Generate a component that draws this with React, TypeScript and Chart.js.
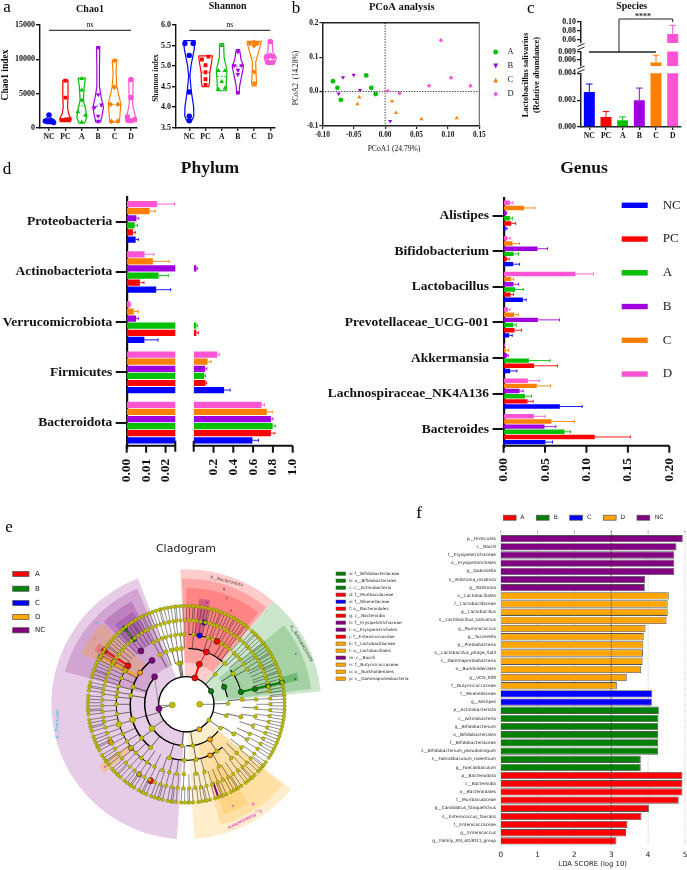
import React, { useEffect, useRef } from "react";
import { Chart, registerables } from "chart.js";
Chart.register(...registerables);

const W = 687, H = 870;
const SERIF = '"Liberation Serif"';
const SANS = '"DejaVu Sans"';
const BLUE = "#0000FF", RED = "#FF0000", GREEN = "#00C000", PURPLE = "#A000E0", ORANGE = "#FF8000", PINK = "#FF55D5";

// ---------- panel a ----------
const groups = ["NC", "PC", "A", "B", "C", "D"];
const chaoTicks = [0, 5000, 10000, 15000];
const chaoNC = [[0, 1850], [-0.22, 1000], [0, 1000], [0.2, 950], [0.28, 750], [0.05, 1000]];
const chaoPC = [[0, 6870], [0, 4380], [-0.22, 1100], [0.04, 1200], [0.24, 1250], [-0.06, 1100]];
const chaoA = [[0, 7150], [0, 5500], [0, 4000], [-0.24, 2300], [0.22, 1800], [0, 800]];
const chaoB = [[0, 11700], [0, 4850], [-0.22, 2950], [0.2, 3350], [0, 1700], [0, 950]];
const chaoC = [[0, 9800], [0, 5900], [-0.24, 3400], [0.2, 3400], [-0.2, 900], [0.2, 950]];
const chaoD = [[0, 7050], [0, 4400], [-0.22, 1600], [0, 1000], [0.24, 1200], [-0.16, 1050]];
const chaoShapeNC = [[1900, 0.05], [1400, 0.12], [1100, 0.32], [800, 0.35], [600, 0.15]];
const chaoShapePC = [[6950, 0.16], [4500, 0.16], [3000, 0.13], [2000, 0.2], [1300, 0.35], [900, 0.3]];
const chaoShapeA = [[7250, 0.22], [6000, 0.15], [4000, 0.1], [2500, 0.25], [1500, 0.3], [700, 0.18]];
const chaoShapeB = [[11800, 0.1], [9000, 0.08], [6000, 0.08], [4500, 0.18], [3000, 0.32], [1800, 0.24], [800, 0.14]];
const chaoShapeC = [[9900, 0.14], [8000, 0.09], [6000, 0.14], [3500, 0.38], [1800, 0.33], [800, 0.28]];
const chaoShapeD = [[7100, 0.13], [5000, 0.12], [3500, 0.1], [2000, 0.22], [1300, 0.33], [900, 0.3]];
const chaoMedians = [1000, 1250, 3200, 3150, 3400, 1300];

const shanTicks = [3.5, 4, 4.5, 5, 5.5, 6];
const shanNC = [[-0.27, 5.55], [0.24, 5.55], [0, 5.26], [0, 4.37], [0, 3.78], [0, 3.67]];
const shanPC = [[-0.22, 5.16], [0.18, 5.23], [0, 5.02], [0, 4.85], [0, 4.68], [0, 4.54]];
const shanA = [[0, 5.5], [-0.2, 4.89], [0.2, 4.89], [0, 4.62], [-0.2, 4.43], [0.2, 4.46]];
const shanB = [[0, 5.35], [-0.22, 5.01], [0.22, 5.01], [0, 4.9], [0, 4.8], [0, 4.36]];
const shanC = [[0, 5.58], [-0.26, 5.55], [0.2, 5.55], [0, 5.5], [0, 4.86], [0, 4.58]];
const shanD = [[0, 5.6], [0, 5.25], [-0.22, 5.23], [0.22, 5.23], [-0.16, 5.1], [0.14, 5.09]];
const shanShapeNC = [[5.62, 0.36], [5.4, 0.3], [5.0, 0.1], [4.75, 0.04], [4.4, 0.12], [4.0, 0.27], [3.78, 0.28], [3.65, 0.12]];
const shanShapePC = [[5.25, 0.42], [5.1, 0.38], [4.85, 0.27], [4.6, 0.25], [4.5, 0.2]];
const shanShapeA = [[5.55, 0.12], [5.2, 0.15], [4.9, 0.33], [4.6, 0.28], [4.4, 0.28]];
const shanShapeB = [[5.4, 0.1], [5.15, 0.2], [5.0, 0.35], [4.8, 0.25], [4.5, 0.1], [4.32, 0.08]];
const shanShapeC = [[5.6, 0.45], [5.45, 0.35], [5.1, 0.1], [4.8, 0.12], [4.6, 0.15], [4.52, 0.12]];
const shanShapeD = [[5.62, 0.12], [5.35, 0.15], [5.2, 0.38], [5.1, 0.3], [5.04, 0.2]];
const shanMedians = [4.8, 4.85, 4.75, 5.0, 5.2, 5.2];

// ---------- panel b ----------
const pcoaA = [[-0.083, 0.03], [-0.076, 0.011], [-0.0705, -0.024], [-0.03, 0.047], [-0.022, 0.011], [-0.015, -0.007]];
const pcoaB = [[-0.074, -0.006], [-0.067, 0.041], [-0.05, 0.048], [-0.04, 0.004], [0.008, -0.086]];
const pcoaC = [[-0.044, -0.036], [-0.041, -0.017], [0.011, -0.028], [0.0175, -0.062], [0.058, -0.08], [0.114, -0.077]];
const pcoaD = [[0.004, 0.002], [0.023, -0.005], [0.07, 0.017], [0.089, 0.149], [0.105, 0.04], [0.136, 0.017]];

// ---------- panel c ----------
const speciesMeans = [0.0026, 0.00075, 0.0005, 0.002, 0.00506, 0.0727];
const speciesErrTop = [0.0032, 0.00115, 0.00075, 0.0029, 0.0078, 0.092];
const speciesLowTicks = [0, 0.002, 0.004];
const speciesMidTicks = [0.006, 0.009];
const speciesTopTicks = [0.06, 0.08, 0.1];

// ---------- panel d ----------
const phylumNames = ["Proteobacteria", "Actinobacteriota", "Verrucomicrobiota", "Firmicutes", "Bacteroidota"];
const phylumNC = [0.0046, 0.0152, 0.0091, 0.307, 0.593];
const phylumPC = [0.0032, 0.0068, 0.027, 0.119, 0.78];
const phylumA = [0.0041, 0.0164, 0.026, 0.106, 0.797];
const phylumB = [0.005, 0.028, 0.0048, 0.116, 0.78];
const phylumC = [0.0118, 0.0135, 0.0036, 0.14, 0.739];
const phylumD = [0.0157, 0.0092, 0.0019, 0.2385, 0.685];
const phylumErrNC = [0.006, 0.0226, 0.0161, 0.368, 0.654];
const phylumErrPC = [0.0044, 0.0089, 0.048, 0.13, 0.82];
const phylumErrA = [0.0056, 0.0214, 0.04, 0.119, 0.825];
const phylumErrB = [0.0062, 0.04, 0.006, 0.133, 0.8];
const phylumErrC = [0.0147, 0.0219, 0.006, 0.177, 0.794];
const phylumErrD = [0.0246, 0.014, 0.0022, 0.262, 0.715];

const genusNames = ["Alistipes", "Bifidobacterium", "Lactobacillus", "Prevotellaceae_UCG-001", "Akkermansia", "Lachnospiraceae_NK4A136", "Bacteroides"];
const genusNC = [0.0024, 0.0116, 0.0233, 0.0068, 0.008, 0.0679, 0.0506];
const genusPC = [0.0092, 0.004, 0.0084, 0.0132, 0.0369, 0.0289, 0.11];
const genusA = [0.0076, 0.012, 0.014, 0.0116, 0.0305, 0.0257, 0.0735];
const genusB = [0.0032, 0.041, 0.012, 0.0414, 0.004, 0.0193, 0.0494];
const genusC = [0.0249, 0.0108, 0.0088, 0.0128, 0.0024, 0.04, 0.0578];
const genusD = [0.0076, 0.0048, 0.0867, 0.0052, 0.0008, 0.0293, 0.0365];
const genusErrNC = [0.004, 0.0193, 0.0273, 0.0104, 0.016, 0.0948, 0.059];
const genusErrPC = [0.0145, 0.0068, 0.012, 0.0217, 0.065, 0.0357, 0.153];
const genusErrA = [0.0108, 0.018, 0.0237, 0.0157, 0.0562, 0.0337, 0.0807];
const genusErrB = [0.0036, 0.053, 0.018, 0.0675, 0.0056, 0.0237, 0.063];
const genusErrC = [0.0378, 0.0193, 0.012, 0.018, 0.006, 0.0566, 0.0855];
const genusErrD = [0.0112, 0.008, 0.1084, 0.0076, 0.0012, 0.0434, 0.05];

// ---------- panel e ----------
const cladeLevel6 = [8,10,12,13,15,17,19,20,22,24,25,27,29,31,32,34,36,38,39,41,43,45,46,48,51,53,54,56,58,60,61,63,65,67,69,70,72,74,76,77,79,81,83,85,86,88,90,92,94,96,97,99,101,103,105,106,108,110,112,114,116,117,119,121,123,124,126,128,130,132,133,135,137,139,141,143,144,146,148,150,151,153,155,157,159,160,162,164,167,169,170,172,175,177,179,181,183,184,186,189,191,193,194,196,199,201,203,205,206,208,211,213,215,216,218,221,223,225,226,228,231,233,235,236,238,241,243,244,246,249,251,253,254,256,259,261,262,264,267,269,271,272,274,277,279,281,282,284,287,289,291,292,294,297,299,301,302,304,307,309,311,312,314,317,319,321,322,324,327,329,331,333,335,337,339,341,343,345,347,349,351,353,355,357,359,1,3,5,6];
const cladeLevel5 = [9,12,15,18,20,23,26,28,31,34,36,39,42,44,47,50,53,55,58,61,63,66,69,71,74,77,80,83,85,88,91,94,97,99,102,105,108,111,114,117,119,122,125,128,131,134,137,140,143,146,149,152,155,158,161,164,167,170,173,177,181,185,189,192,196,200,204,208,212,216,220,224,228,232,236,240,244,248,252,256,260,264,268,272,276,280,284,288,292,296,300,304,308,312,316,320,324,328,332,336,340,344,348,352,356,0,4];
const cladeLevel4 = [92,95,99,103,107,110,114,118,152,158,165,170,174,180,188,205,212,218,224,230,236,243,250,256,262,268,278,285,298,310,316,322,330,335,342,350,357,4,30,35,40,44,47,52,56,60,68,72,84];
const cladeLevel3 = [95,100,105,111,118,162,171,217,230.5,252.6,268,280,303,328,347,5,33,47];
const cladeLevel2 = [97,99,101,264,279,325,344,1,46];
const cladeLevel1 = [325];
const cladeBigNodes = [[42, 183], [211, 196.5], [168, 196], [126, 215], [40, 0]];
const cladeGreen = [[84, 28], [125, 24.5], [168, 12.7], [211, 12.6], [252, 12.8], [294, 13], [251, 129], [293, 129]];
const cladeRed = [[83, 72], [126, 72], [168, 69], [210, 64], [253, 245], [294, 146.8], [210, 146.5]];
const cladeBlue = [[210, 79], [251, 77.6]];
const cladeOrange = [[84.5, -62.5], [127, -56], [169, -65], [168, 145.6], [210, 150], [252, 150], [294.5, 151], [253, 236], [212, 218.5], [253.6, 206.5]];
const cladePurple = [[83, 189], [126, 139], [167, 128], [210, 130.4]];
const cladeBlackArcs = [[83, 0, 360, 1.4], [125, 139, 265, 1.5], [125, 270, 320, 1.2], [125, 10, 30, 1.2], [168, 128, 232, 1.5], [168, 50, 88, 1.4], [168, 252, 310, 1.2], [168, 12, 38, 1.1], [210, 58, 88, 0.9], [210, 150, 240, 0.9]];
const cladeWedges = [
  ["128,0,128", 111, 266, 83, 405, 0.2], ["128,0,128", 113, 165, 125, 377, 0.2], ["128,0,128", 118, 135, 210, 350, 0.22], ["128,0,128", 120, 132, 250, 320, 0.22],
  ["255,165,0", 136, 154, 170, 350, 0.25], ["255,0,0", 145, 150, 210, 320, 0.2], ["255,165,0", 215, 220, 210, 320, 0.3],
  ["255,0,0", 50, 92.5, 83, 405, 0.2], ["255,0,0", 50.5, 92, 125, 377, 0.2], ["255,0,0", 52, 90, 170, 350, 0.2], ["128,0,128", 77, 83, 210, 320, 0.3],
  ["0,128,0", 5.5, 50, 83, 405, 0.2], ["0,128,0", 7, 39, 125, 377, 0.2], ["0,128,0", 12, 16, 290, 345, 0.3],
  ["255,165,0", -86.6, -39, 83, 405, 0.2], ["255,165,0", -74, -40, 125, 377, 0.2], ["255,165,0", -71, -58, 210, 350, 0.2],
];
const cladeLegendLeft = [["A", "#FF0000"], ["B", "#008000"], ["C", "#0000FF"], ["D", "#FFA500"], ["NC", "#800080"]];
const cladeLegendRight = [
  ["a: f__Bifidobacteriaceae", "#008000"], ["b: o__Bifidobacteriales", "#008000"], ["c: c__Actinobacteria", "#008000"], ["d: f__Muribaculaceae", "#FF0000"],
  ["e: f__Rikenellaceae", "#0000FF"], ["f: o__Bacteroidales", "#FF0000"], ["g: c__Bacteroidia", "#FF0000"], ["h: f__Erysipelotrichaceae", "#800080"],
  ["i: o__Erysipelotrichales", "#800080"], ["j: f__Enterococcaceae", "#FF0000"], ["k: f__Lactobacillaceae", "#FFA500"], ["l: o__Lactobacillales", "#FFA500"],
  ["m: c__Bacilli", "#800080"], ["n: f__Butyricicoccaceae", "#FFA500"], ["o: o__Burkholderiales", "#FFA500"], ["p: c__Gammaproteobacteria", "#FFA500"],
];

// ---------- panel f ----------
const ldaNamesNC = ["p__Firmicutes", "c__Bacilli", "f__Erysipelotrichaceae", "o__Erysipelotrichales", "g__Dubosiella", "s__Ralstonia_insidiosa", "g__Ralstonia"];
const ldaNC = [4.94, 4.77, 4.71, 4.71, 4.71, 3.92, 3.91];
const ldaNamesD = ["o__Lactobacillales", "f__Lactobacillaceae", "g__Lactobacillus", "s__Lactobacillus_salivarius", "g__Ruminococcus", "g__Tuzzerella", "p__Proteobacteria", "s__Lactobacillus_phage_Sal3", "c__Gammaproteobacteria", "o__Burkholderiales", "g__UCG_009", "f__Butyricicoccaceae"];
const ldaD = [4.56, 4.53, 4.53, 4.5, 3.93, 3.88, 3.87, 3.86, 3.85, 3.81, 3.42, 3.15];
const ldaNamesC = ["f__Rikenellaceae", "g__Alistipes"];
const ldaC = [4.11, 4.1];
const ldaNamesB = ["p__Actinobacteriota", "c__Actinobacteria", "g__Bifidobacterium", "o__Bifidobacteriales", "f__Bifidobacteriaceae", "s__Bifidobacterium_pseudolongum", "s__Faecalibaculum_rodentium", "g__Faecalibaculum"];
const ldaB = [4.29, 4.28, 4.27, 4.27, 4.27, 4.27, 3.8, 3.8];
const ldaNamesA = ["p__Bacteroidota", "c__Bacteroidia", "o__Bacteroidales", "f__Muribaculaceae", "g__Candidatus_Stoquefichus", "s__Enterococcus_faecalis", "f__Enterococcaceae", "g__Enterococcus", "g__Family_XIII_AD3011_group"];
const ldaA = [4.93, 4.93, 4.93, 4.83, 4.02, 3.82, 3.44, 3.4, 3.14];
const ldaTicks = [0, 1, 2, 3, 4, 5];

// ---------- helpers ----------
// The y axis box is as wide as the space left of the plot, the x axis box as tall as the space under it,
// so each plot area lands on exact page pixels in a full-page canvas.
const pad = (l, t, r, b, showX = true, showY = true) => ({ left: showY ? 0 : l, top: t, right: W - r, bottom: showX ? 0 : H - b });
const fitTo = (l, b) => (s) => {
  if (s.isHorizontal()) s.height = H - b; else s.width = l;
  s.paddingLeft = 0; s.paddingRight = 0; s.paddingTop = 0; s.paddingBottom = 0;
};
const setTicks = (arr) => (s) => { s.ticks = arr.map((v) => ({ value: v })); };

function T(ctx, s, x, y, font, opt: any = {}) {
  ctx.save();
  ctx.font = font;
  ctx.fillStyle = opt.color || "#000";
  ctx.textAlign = opt.align || "center";
  ctx.textBaseline = "middle";
  ctx.translate(x, y);
  if (opt.rot) ctx.rotate((opt.rot * Math.PI) / 180);
  ctx.fillText(s, 0, 0);
  ctx.restore();
}
function L(ctx, pts, color = "#000", w = 1, dash: any = null) {
  ctx.save();
  ctx.strokeStyle = color;
  ctx.lineWidth = w;
  if (dash) ctx.setLineDash(dash);
  ctx.beginPath();
  pts.forEach((p, i) => (i ? ctx.lineTo(p[0], p[1]) : ctx.moveTo(p[0], p[1])));
  ctx.stroke();
  ctx.restore();
}
const tickFont = (size, weight = "bold") => ({ family: SERIF, size, weight, lineHeight: 1 });
const base = (layoutBox) => ({
  animation: false, responsive: false, maintainAspectRatio: false,
  layout: { padding: layoutBox },
  plugins: { legend: { display: false }, tooltip: { enabled: false }, title: { display: false } },
});

// ---- violin panels
function violinConfig(o) {
  const stylesP = ["circle", "rect", "triangle", "triangle", "rectRot", "circle"];
  const rots = [0, 0, 0, 180, 0, 0];
  const colors = [BLUE, RED, GREEN, PURPLE, ORANGE, PINK];
  const fit = fitTo(o.l, o.b);
  return {
    type: "scatter",
    data: {
      datasets: o.points.map((pts, g) => ({
        data: pts.map((p) => ({ x: g + p[0], y: p[1] })),
        pointStyle: stylesP[g], rotation: rots[g], pointRadius: 2.7,
        backgroundColor: colors[g], borderColor: colors[g], borderWidth: 0,
      })),
    },
    options: {
      ...base(pad(o.l, o.t, o.r, o.b)),
      scales: {
        x: {
          type: "linear", min: o.xMin, max: o.xMax, afterFit: fit, afterBuildTicks: setTicks([0, 1, 2, 3, 4, 5]),
          border: { color: "#111", width: 1.4 }, grid: { drawOnChartArea: false, color: "#111", lineWidth: 1.4, tickLength: 3 },
          ticks: { callback: (v) => groups[v], font: tickFont(7.7), color: "#111", padding: 2, maxRotation: 0, minRotation: 0, autoSkip: false },
        },
        y: {
          type: "linear", min: o.yMin, max: o.yMax, afterFit: fit, afterBuildTicks: setTicks(o.yTicks),
          border: { color: "#111", width: 1.4 }, grid: { drawOnChartArea: false, color: "#111", lineWidth: 1.4, tickLength: 4 },
          ticks: { callback: o.fmt, font: tickFont(8), color: "#111", padding: 1, autoSkip: false },
        },
      },
    },
    plugins: [{
      id: "violin",
      beforeDatasetsDraw(c) {
        const { ctx, scales: { x, y } } = c;
        o.shapes.forEach((shape, g) => {
          const pts = shape.map((s) => [x.getPixelForValue(g - s[1]), y.getPixelForValue(s[0])]);
          const back = shape.slice().reverse().map((s) => [x.getPixelForValue(g + s[1]), y.getPixelForValue(s[0])]);
          const all = pts.concat(back); all.push(all[0]);
          L(ctx, all, colors[g], 1.2);
          const mx = shape.find((s) => s[0] <= o.medians[g]);
          const hw = mx ? mx[1] : 0.2;
          L(ctx, [[x.getPixelForValue(g - hw), y.getPixelForValue(o.medians[g])], [x.getPixelForValue(g + hw), y.getPixelForValue(o.medians[g])]], colors[g], 0.8, [2, 1.5]);
        });
      },
      afterDatasetsDraw(c) {
        const { ctx, scales: { x } } = c;
        const ly = 30.3;
        L(ctx, [[x.getPixelForValue(0), ly], [x.getPixelForValue(5), ly]], "#111", 1);
        T(ctx, "ns", (x.getPixelForValue(0) + x.getPixelForValue(5)) / 2, 25.5, `7.5px ${SERIF}`);
        T(ctx, o.title, o.titleX, o.titleY, `bold 10px ${SERIF}`, { color: "#111" });
        T(ctx, o.yLabel, o.yLabelX, o.yLabelY, `bold ${o.yLabelSize}px ${SERIF}`, { rot: -90, color: "#111" });
        if (o.letter) T(ctx, o.letter, 7, 8, `17px ${SERIF}`);
      },
    }],
  };
}

// ---- scatter panel b
function pcoaConfig() {
  const legend = [["A", GREEN, "circle", 0], ["B", PURPLE, "triangle", 180], ["C", ORANGE, "triangle", 0], ["D", PINK, "rectRot", 0]];
  const sets = [pcoaA, pcoaB, pcoaC, pcoaD];
  const fit = fitTo(322.3, 126);
  return {
    type: "scatter",
    data: {
      datasets: sets.map((pts, i) => ({
        data: pts.map((p) => ({ x: p[0], y: p[1] })),
        pointStyle: legend[i][2], rotation: legend[i][3], pointRadius: i === 3 ? 2.2 : 2.4,
        backgroundColor: legend[i][1], borderWidth: 0,
      })),
    },
    options: {
      ...base(pad(322.3, 22.7, 479.3, 126)),
      scales: {
        x: {
          type: "linear", min: -0.1, max: 0.15, afterFit: fit, afterBuildTicks: setTicks([-0.1, -0.05, 0, 0.05, 0.1, 0.15]),
          border: { color: "#222", width: 1.5 }, grid: { drawOnChartArea: false, color: "#222", lineWidth: 1.2, tickLength: 3 },
          ticks: { callback: (v) => Number(v).toFixed(2), font: tickFont(7.3), color: "#111", padding: 2, maxRotation: 0, minRotation: 0, autoSkip: false },
        },
        y: {
          type: "linear", min: -0.1, max: 0.2, afterFit: fit, afterBuildTicks: setTicks([-0.1, 0, 0.1, 0.2]),
          border: { color: "#222", width: 1.5 }, grid: { drawOnChartArea: false, color: "#222", lineWidth: 1.2, tickLength: 3 },
          ticks: { callback: (v) => Number(v).toFixed(1), font: tickFont(7.3), color: "#111", padding: 1, autoSkip: false },
        },
      },
    },
    plugins: [{
      id: "pcoa",
      beforeDatasetsDraw(c) {
        const { ctx, scales: { x, y }, chartArea: a } = c;
        L(ctx, [[a.left, a.top], [a.right, a.top]], "#222", 1.4);
        L(ctx, [[a.right, a.top], [a.right, a.bottom]], "#555", 1);
        L(ctx, [[x.getPixelForValue(0), a.top], [x.getPixelForValue(0), a.bottom]], "#111", 0.9, [1.2, 1.5]);
        L(ctx, [[a.left, y.getPixelForValue(0)], [a.right, y.getPixelForValue(0)]], "#111", 0.9, [1.2, 1.5]);
      },
      afterDatasetsDraw(c) {
        const { ctx } = c;
        T(ctx, "PCoA analysis", 401.7, 7, `bold 10.6px ${SERIF}`, { color: "#111" });
        T(ctx, "PCoA2  (14.28%)", 296, 78, `7.6px ${SERIF}`, { rot: -90, color: "#111" });
        T(ctx, "PCoA1 (24.79%)", 394, 149, `7.6px ${SERIF}`, { color: "#111" });
        T(ctx, "b", 296, 9, `17px ${SERIF}`);
        legend.forEach((l, i) => {
          const ly = 52 + i * 14;
          ctx.save();
          ctx.fillStyle = l[1];
          ctx.translate(495.7, ly);
          const r = 2.4;
          ctx.beginPath();
          if (l[2] === "circle") ctx.arc(0, 0, r, 0, Math.PI * 2);
          else if (l[2] === "rectRot") { ctx.moveTo(0, -r); ctx.lineTo(r, 0); ctx.lineTo(0, r); ctx.lineTo(-r, 0); ctx.closePath(); }
          else { const d = l[3] ? -1 : 1; ctx.moveTo(0, -r * d); ctx.lineTo(r, r * d); ctx.lineTo(-r, r * d); ctx.closePath(); }
          ctx.fill();
          ctx.restore();
          T(ctx, l[0], 507.5, ly, `8.5px ${SERIF}`, { align: "left", color: "#222" });
        });
      },
    }],
  };
}

// ---- panel c pieces
function speciesPart(l, t, r, b, min, max, ticks, digits, showX, deco) {
  const colors = [BLUE, RED, GREEN, PURPLE, ORANGE, PINK];
  const fit = fitTo(l, b);
  return {
    type: "bar",
    data: { labels: groups, datasets: [{ data: speciesMeans, backgroundColor: colors, barPercentage: 0.66, categoryPercentage: 1 }] },
    options: {
      ...base(pad(l, t, r, b, showX, true)),
      scales: {
        x: {
          display: showX, afterFit: showX ? fit : undefined,
          border: { color: "#222", width: 1.5 }, grid: { offset: false, drawOnChartArea: false, color: "#222", lineWidth: 1.3, tickLength: 3 },
          ticks: { font: tickFont(7.7), color: "#111", padding: 2, maxRotation: 0, minRotation: 0, autoSkip: false },
        },
        y: {
          type: "linear", min, max, afterFit: fit, afterBuildTicks: setTicks(ticks),
          border: { color: "#222", width: 1.5 }, grid: { drawOnChartArea: false, color: "#222", lineWidth: 1.3, tickLength: 4 },
          ticks: { callback: (v) => Number(v).toFixed(digits), font: tickFont(7.9), color: "#111", padding: 1, autoSkip: false },
        },
      },
    },
    plugins: [{
      id: "speciesErr",
      afterDatasetsDraw(c) {
        const { ctx, scales: { x, y }, chartArea: a } = c;
        ctx.save();
        ctx.beginPath();
        ctx.rect(a.left - 6, a.top - 4, a.right - a.left + 12, a.bottom - a.top + 4);
        ctx.clip();
        speciesMeans.forEach((m, i) => {
          if (m > max || speciesErrTop[i] < min) return;
          const px = x.getPixelForValue(i);
          const y0 = y.getPixelForValue(Math.max(m, min));
          const y1 = y.getPixelForValue(speciesErrTop[i]);
          L(ctx, [[px, y0], [px, y1]], colors[i], 1);
          L(ctx, [[px - 3.3, y1], [px + 3.3, y1]], colors[i], 1);
        });
        ctx.restore();
        if (deco) deco(ctx);
      },
    }],
  };
}
const speciesDeco = (ctx) => {
  T(ctx, "Species", 631.7, 6, `bold 10px ${SERIF}`, { color: "#111" });
  T(ctx, "c", 530.7, 9, `17px ${SERIF}`);
  T(ctx, "Lactobacillus salivarius", 526, 75, `bold 8.4px ${SERIF}`, { rot: -90, color: "#111" });
  T(ctx, "(Relative abundance)", 537, 75, `bold 8.4px ${SERIF}`, { rot: -90, color: "#111" });
  L(ctx, [[589, 52], [656, 52]], "#222", 1.3);
  L(ctx, [[619, 52], [619, 19], [672.7, 19], [672.7, 22]], "#222", 1);
  T(ctx, "****", 643, 16.5, `bold 8px ${SERIF}`, { color: "#222" });
  L(ctx, [[577.5, 46.5], [584.5, 43.5]], "#222", 1);
  L(ctx, [[577.5, 50], [584.5, 47]], "#222", 1);
  L(ctx, [[577.5, 69], [584.5, 66]], "#222", 1);
  L(ctx, [[577.5, 72.5], [584.5, 69.5]], "#222", 1);
};

// ---- horizontal bar panels
function hbarConfig(o) {
  const colors = [PINK, ORANGE, PURPLE, GREEN, RED, BLUE];
  const fit = fitTo(o.l, o.b);
  return {
    type: "bar",
    data: {
      labels: o.names,
      datasets: o.series.map((d, i) => ({
        data: o.filter ? d.map((v) => (v >= o.filter ? v : null)) : d,
        backgroundColor: colors[i], barPercentage: o.barPct, categoryPercentage: o.catPct,
      })),
    },
    options: {
      ...base(pad(o.l, o.t, o.r, o.b, true, o.showY)),
      indexAxis: "y",
      scales: {
        x: {
          type: "linear", min: o.xMin, max: o.xMax, afterFit: fit, afterBuildTicks: setTicks(o.xTicks),
          border: { display: false }, grid: { display: false, drawTicks: false },
          ticks: { callback: (v) => Number(v).toFixed(o.digits), font: tickFont(13.5), color: "#111", padding: 11, maxRotation: 90, minRotation: 90, autoSkip: false },
        },
        y: {
          display: o.showY, afterFit: o.showY ? fit : undefined,
          border: { color: "#111", width: 2.2 }, grid: { offset: false, drawOnChartArea: false, color: "#111", lineWidth: 2, tickLength: 11 },
          ticks: { font: tickFont(13.5), color: "#111", padding: 3.5, autoSkip: false },
        },
      },
    },
    plugins: [{
      id: "hbarErr",
      afterDatasetsDraw(c) {
        const { ctx, scales: { x }, chartArea: a } = c;
        ctx.save();
        ctx.beginPath();
        ctx.rect(a.left, a.top - 2, a.right - a.left + 3, a.bottom - a.top + 4);
        ctx.clip();
        o.series.forEach((d, i) => {
          const meta = c.getDatasetMeta(i);
          d.forEach((v, j) => {
            if (v > o.xMax) return;
            if (o.filter && v < o.filter) return;
            const bar = meta.data[j];
            const px = x.getPixelForValue(v), ex = x.getPixelForValue(o.errs[i][j]);
            L(ctx, [[px, bar.y], [ex, bar.y]], colors[i], 0.9);
            L(ctx, [[ex, bar.y - 1.5], [ex, bar.y + 1.5]], colors[i], 0.9);
          });
        });
        ctx.restore();
        const ay = 445.7;
        L(ctx, [[a.left - 1, ay], [a.right, ay]], "#111", 2);
        o.xTicks.forEach((v) => { const p = x.getPixelForValue(v); L(ctx, [[p, ay], [p, ay + 7]], "#111", 2); });
        if (o.stub) L(ctx, [[o.stub, ay - 5], [o.stub, ay + 6]], "#111", 2);
        if (o.deco) o.deco(ctx);
      },
    }],
  };
}
const genusLegend = [["NC", BLUE], ["PC", RED], ["A", GREEN], ["B", PURPLE], ["C", ORANGE], ["D", PINK]];

// ---- cladogram
const pol = (r, a) => ({ x: r * Math.cos((a * Math.PI) / 180), y: r * Math.sin((a * Math.PI) / 180) });
function cladeConfig() {
  const olive = "#BDBD00", edge = "#6E6E00";
  const nodeSet = (pts, bg, radius, bw = 0.6, bc = "#222") => ({ data: pts, backgroundColor: bg, borderColor: bc, borderWidth: bw, pointRadius: radius });
  const onLevel = (list, r) => list.map((a) => pol(r, a));
  return {
    type: "scatter",
    data: {
      datasets: [
        nodeSet(onLevel(cladeLevel6, 295), olive, 1.7, 0.4, edge),
        nodeSet(onLevel(cladeLevel5, 252), olive, 1.8, 0.4, edge),
        nodeSet(onLevel(cladeLevel4, 210), olive, 1.9, 0.4, edge),
        nodeSet(onLevel(cladeLevel3, 168), olive, 2.2, 0.4, edge),
        nodeSet(onLevel(cladeLevel2, 125), olive, 2, 0.4, edge),
        nodeSet(onLevel(cladeLevel1, 83), olive, 2.2, 0.4, edge),
        nodeSet(cladeBigNodes.map((p) => pol(p[0], p[1])), olive, 3, 0.4, edge),
        nodeSet(cladeGreen.map((p) => pol(p[0], p[1])), "#008000", 2.7),
        nodeSet(cladeRed.map((p) => pol(p[0], p[1])), "#FF0000", 3),
        nodeSet(cladeBlue.map((p) => pol(p[0], p[1])), "#0000FF", 2.7),
        nodeSet(cladeOrange.map((p) => pol(p[0], p[1])), "#FFA500", 2.5),
        nodeSet(cladePurple.map((p) => pol(p[0], p[1])), "#800080", 3),
      ],
    },
    options: {
      ...base({ left: 46.3, top: 564.3, right: W - 326.3, bottom: H - 844.3 }),
      scales: {
        x: { type: "linear", display: false, min: -420, max: 420 },
        y: { type: "linear", display: false, min: -420, max: 420 },
      },
    },
    plugins: [{
      id: "clade",
      beforeDatasetsDraw(c) {
        const { ctx, scales: { x, y } } = c;
        const cx = x.getPixelForValue(0), cy = y.getPixelForValue(0);
        const k = x.getPixelForValue(1) - cx;
        const deg = Math.PI / 180;
        cladeWedges.forEach((w: any) => {
          ctx.fillStyle = `rgba(${w[0]},${w[5]})`;
          ctx.beginPath();
          ctx.arc(cx, cy, w[4] * k, -w[1] * deg, -w[2] * deg, true);
          ctx.arc(cx, cy, w[3] * k, -w[2] * deg, -w[1] * deg, false);
          ctx.closePath();
          ctx.fill();
        });
        const P = (r, a) => [cx + r * k * Math.cos(a * deg), cy - r * k * Math.sin(a * deg)];
        const spokes = (list, r0, r1, w, col = "#222") => list.forEach((a) => L(ctx, [P(r0, a), P(r1, a)], col, w));
        spokes(cladeLevel6, 252, 295, 0.5);
        spokes(cladeLevel5, 210, 252, 0.5);
        spokes(cladeLevel4, 168, 210, 0.6);
        spokes(cladeLevel3, 125, 168, 0.7);
        spokes(cladeLevel2, 83, 125, 0.7);
        L(ctx, [P(42, 183), P(83, 183)], "#999", 1.2);
        L(ctx, [P(40, 0), P(83, 0)], "#777", 0.9);
        L(ctx, [P(83, 189), P(42, 183)], "#777", 1);
        [[83, 196.5, 125], [125, 196, 168], [168, 196.5, 210], [125, 215, 83]].forEach((s) => L(ctx, [P(s[0], s[1]), P(s[2], s[1])], "#222", 0.6));
        cladeBlackArcs.forEach((s) => {
          ctx.save();
          ctx.strokeStyle = "#000";
          ctx.lineWidth = s[3];
          ctx.beginPath();
          ctx.arc(cx, cy, s[0] * k, -s[1] * deg, -s[2] * deg, true);
          ctx.stroke();
          ctx.restore();
        });
        L(ctx, [P(83, 72), P(126, 72)], "#FF0000", 2);
        L(ctx, [P(126, 72), P(168, 69)], "#FF0000", 1);
        L(ctx, [P(168, 12.7), P(294, 13)], "#008000", 2);
        L(ctx, [P(251, 129), P(293, 129)], "#008000", 1.2);
        L(ctx, [P(210, 146.5), P(294, 146.8)], "#FF0000", 1.4);
        L(ctx, [P(168, 150), P(294.5, 151)], "#FFA500", 1.4);
        L(ctx, [P(248, -71), P(298, -71)], "#800080", 2);
        L(ctx, [P(83, 189), P(126, 139)], "#555", 0.5);
      },
      afterDatasetsDraw(c) {
        const { ctx } = c;
        T(ctx, "e", 9, 528, `17px ${SERIF}`);
        T(ctx, "Cladogram", 186, 549, `11px ${SANS}`, { color: "#222" });
        cladeLegendLeft.forEach((l, i) => {
          const ly = [574, 588.7, 603, 617, 630.3][i];
          ctx.fillStyle = l[1]; ctx.strokeStyle = "#555"; ctx.lineWidth = 0.7;
          ctx.fillRect(12.7, ly - 2.6, 16.3, 5.2); ctx.strokeRect(12.7, ly - 2.6, 16.3, 5.2);
          T(ctx, l[0], 35, ly, `7px ${SANS}`, { align: "left", color: "#222" });
        });
        cladeLegendRight.forEach((l, i) => {
          const ly = 573.7 + i * 7;
          ctx.fillStyle = l[1]; ctx.strokeStyle = "#555"; ctx.lineWidth = 0.5;
          ctx.fillRect(336, ly - 1.7, 9.7, 3.4); ctx.strokeRect(336, ly - 1.7, 9.7, 3.4);
          T(ctx, l[0], 349.3, ly, `4.2px ${SANS}`, { align: "left", color: "#222" });
        });
        const z = (v) => v / 3;
        const small = `4.2px ${SANS}`;
        T(ctx, "p__Bacteroidota", z(680), 500 + z(243), small, { rot: 15, color: "#553333" });
        T(ctx, "p__Firmicutes", z(172), 500 + z(672), small, { rot: -88, color: "#22B8D8" });
        T(ctx, "p__Actinobacteriota", z(905), 500 + z(430), small, { rot: 60, color: "#224422" });
        T(ctx, "p__Proteobacteria", z(735), 500 + z(958), small, { rot: 153, color: "#E000C0" });
        const letters = [["g", 672, 268, "#663333"], ["f", 680, 298, "#663333"], ["d", 692, 334, "#AA2222"], ["e", 620, 310, "#6633AA"], ["c", 888, 463, "#224422"], ["a", 885, 537, "#224422"], ["m", 290, 370, "#22B8D8"], ["l", 353, 347, "#22B8D8"], ["h", 358, 378, "#22B8D8"], ["i", 283, 418, "#E000C0"], ["j", 297, 447, "#E000C0"], ["o", 698, 917, "#E000C0"], ["p", 760, 913, "#E000C0"], ["n", 315, 802, "#E000C0"]];
        letters.forEach((l: any) => T(ctx, l[0], z(l[1]), 500 + z(l[2]), small, { color: l[3] }));
      },
    }],
  };
}

// ---- LDA panel
function ldaConfig() {
  const names = [...ldaNamesNC, ...ldaNamesD, ...ldaNamesC, ...ldaNamesB, ...ldaNamesA];
  const vals = [...ldaNC, ...ldaD, ...ldaC, ...ldaB, ...ldaA];
  const colors = [
    ...ldaNC.map(() => "#800080"), ...ldaD.map(() => "#FFA500"), ...ldaC.map(() => "#0000FF"),
    ...ldaB.map(() => "#008000"), ...ldaA.map(() => "#FF0000"),
  ];
  const fit = fitTo(500.7, 845);
  return {
    type: "bar",
    data: { labels: names, datasets: [{ data: vals, backgroundColor: colors, borderColor: "#555", borderWidth: 0.9, barPercentage: 0.9, categoryPercentage: 1 }] },
    options: {
      ...base(pad(500.7, 534.6, 685, 845)),
      indexAxis: "y",
      scales: {
        x: {
          type: "linear", min: 0, max: 5, afterFit: fit, afterBuildTicks: setTicks(ldaTicks),
          border: { display: false }, grid: { display: false, drawTicks: false },
          ticks: { font: { family: SANS, size: 7.3, lineHeight: 1 }, color: "#222", padding: 6, maxRotation: 0, minRotation: 0, autoSkip: false },
        },
        y: {
          afterFit: fit, border: { display: false }, grid: { display: false, drawTicks: false },
          ticks: { font: { family: SANS, size: 4.3, lineHeight: 1 }, color: "#222", padding: 4.7, autoSkip: false },
        },
      },
    },
    plugins: [{
      id: "lda",
      beforeDatasetsDraw(c) {
        const { ctx, scales: { x }, chartArea: a } = c;
        ldaTicks.forEach((v) => { const p = x.getPixelForValue(v); L(ctx, [[p, a.top - 3], [p, a.bottom]], "#AAA", 0.7, [1, 1.3]); });
      },
      afterDatasetsDraw(c) {
        const { ctx, scales: { x }, chartArea: a } = c;
        const p3 = x.getPixelForValue(3);
        L(ctx, [[p3, a.top - 3], [p3, a.bottom]], "#111", 0.7, [1, 1.3]);
        ldaTicks.forEach((v) => { const p = x.getPixelForValue(v); L(ctx, [[p, a.top - 4], [p, a.top - 2]], "#555", 0.6); });
        T(ctx, "LDA SCORE (log 10)", 592.7, 864.5, `6.9px ${SANS}`, { color: "#222" });
        T(ctx, "f", 419, 514, `17px ${SERIF}`);
        const items = [["A", "#FF0000", 503.3, 522.3], ["B", "#008000", 536.3, 555.7], ["C", "#0000FF", 569.7, 589], ["D", "#FFA500", 603.3, 622.7], ["NC", "#800080", 637, 659]];
        items.forEach((it: any) => {
          ctx.fillStyle = it[1]; ctx.strokeStyle = "#555"; ctx.lineWidth = 0.7;
          ctx.fillRect(it[2], 515.2, 12.8, 5); ctx.strokeRect(it[2], 515.2, 12.8, 5);
          T(ctx, it[0], it[3], 517.7, `6px ${SANS}`, { color: "#222" });
        });
      },
    }],
  };
}

function buildConfigs() {
  const phylumSeries = [phylumD, phylumC, phylumB, phylumA, phylumPC, phylumNC];
  const phylumErrs = [phylumErrD, phylumErrC, phylumErrB, phylumErrA, phylumErrPC, phylumErrNC];
  const genusSeries = [genusD, genusC, genusB, genusA, genusPC, genusNC];
  const genusErrs = [genusErrD, genusErrC, genusErrB, genusErrA, genusErrPC, genusErrNC];
  return [
    violinConfig({
      l: 40, t: 25, r: 137, b: 127.7, xMin: -0.55, xMax: 5.37, yMin: 0, yMax: 15000, yTicks: chaoTicks, fmt: (v) => String(v),
      points: [chaoNC, chaoPC, chaoA, chaoB, chaoC, chaoD],
      shapes: [chaoShapeNC, chaoShapePC, chaoShapeA, chaoShapeB, chaoShapeC, chaoShapeD], medians: chaoMedians,
      title: "Chao1", titleX: 90, titleY: 9.3, yLabel: "Chao1 index", yLabelX: 6, yLabelY: 75, yLabelSize: 9.5, letter: "a",
    }),
    violinConfig({
      l: 176, t: 25, r: 275, b: 127.7, xMin: -0.82, xMax: 5.29, yMin: 3.5, yMax: 6, yTicks: shanTicks, fmt: (v) => Number(v).toFixed(1),
      points: [shanNC, shanPC, shanA, shanB, shanC, shanD],
      shapes: [shanShapeNC, shanShapePC, shanShapeA, shanShapeB, shanShapeC, shanShapeD], medians: shanMedians,
      title: "Shannon", titleX: 227.7, titleY: 6.7, yLabel: "Shannon index", yLabelX: 155.7, yLabelY: 78, yLabelSize: 7.5,
    }),
    pcoaConfig(),
    speciesPart(581, 73.3, 681, 127, 0, 0.004, speciesLowTicks, 3, true, speciesDeco),
    speciesPart(581, 51.5, 681, 66, 0.00375, 0.0092, speciesMidTicks, 3, false, null),
    speciesPart(581, 21.7, 681, 43, 0.0527, 0.1, speciesTopTicks, 2, false, null),
    hbarConfig({
      names: phylumNames, series: phylumSeries, errs: phylumErrs, l: 126.7, t: 196.7, r: 175.3, b: 447.65,
      xMin: 0, xMax: 0.025, xTicks: [0, 0.01, 0.02], digits: 2, barPct: 0.88, catPct: 0.847, showY: true, stub: 175.3,
      deco: (ctx) => {
        T(ctx, "d", 7, 170, `17px ${SERIF}`);
        T(ctx, "Phylum", 210, 168, `bold 17.5px ${SERIF}`, { color: "#111" });
      },
    }),
    hbarConfig({
      names: phylumNames, series: phylumSeries, errs: phylumErrs, l: 193.7, t: 196.7, r: 292.7, b: 447.65,
      xMin: 0, xMax: 1, xTicks: [0.2, 0.4, 0.6, 0.8, 1], digits: 1, barPct: 0.88, catPct: 0.847, showY: false, filter: 0.025, stub: 193.7,
    }),
    hbarConfig({
      names: genusNames, series: genusSeries, errs: genusErrs, l: 503.6, t: 197.9, r: 669.3, b: 447,
      xMin: 0, xMax: 0.2, xTicks: [0, 0.05, 0.1, 0.15, 0.2], digits: 2, barPct: 0.85, catPct: 0.87, showY: true,
      deco: (ctx) => {
        T(ctx, "Genus", 584, 168, `bold 17.5px ${SERIF}`, { color: "#111" });
        genusLegend.forEach((g, i) => {
          const ly = 205.3 + i * 33.75;
          ctx.fillStyle = g[1];
          ctx.fillRect(621.7, ly - 2.7, 26, 5.4);
          T(ctx, g[0], 662.7, ly, `13px ${SERIF}`, { align: "left", color: "#222" });
        });
      },
    }),
    cladeConfig(),
    ldaConfig(),
  ];
}

export default function App() {
  const holder = useRef<HTMLDivElement | null>(null);
  useEffect(() => {
    document.body.style.margin = "0";
    document.body.style.background = "#fff";
    const charts: any[] = [];
    const configs: any[] = buildConfigs();
    configs.forEach((cfg) => {
      const cv = document.createElement("canvas");
      cv.width = W; cv.height = H;
      cv.style.cssText = `position:absolute;left:0;top:0;width:${W}px;height:${H}px;`;
      holder.current!.appendChild(cv);
      charts.push(new Chart(cv, cfg));
    });
    return () => {
      charts.forEach((c) => { const cv = c.canvas; c.destroy(); cv.remove(); });
    };
  }, []);
  return <div ref={holder} style={{ position: "relative", width: W, height: H, background: "#fff", overflow: "hidden" }} />;
}
